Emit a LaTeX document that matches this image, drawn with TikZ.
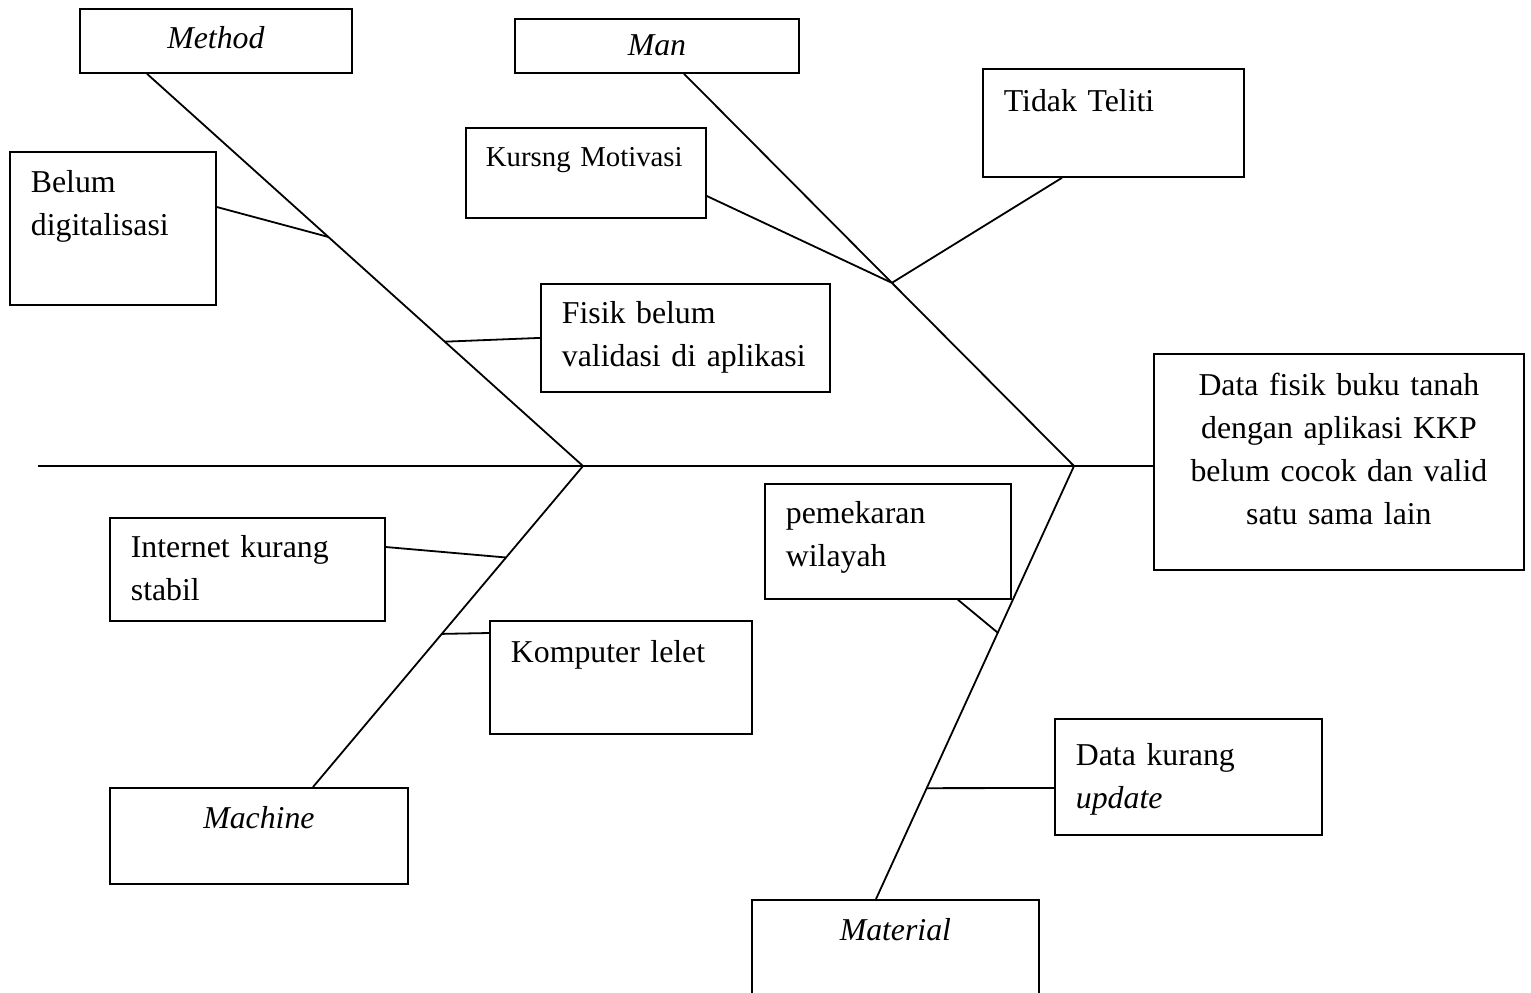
\documentclass[tikz,border=0pt]{standalone}
\usepackage{fontspec}
\setmainfont{Liberation Serif}
\usetikzlibrary{calc}

\tikzset{
  box/.style={draw, line width=0.9pt, anchor=north west, align=left, inner xsep=10.5pt, inner ysep=0pt, font=\fontsize{15.9}{21.5}\selectfont},
  cat/.style={box, align=center, font=\fontsize{15.9}{21.5}\selectfont\itshape},
  bone/.style={line width=0.9pt}
}

\begin{document}
\begin{tikzpicture}[x=0.5pt, y=-0.5pt]
\useasboundingbox (0,0) rectangle (1531,992);

\node [cat, text width=115pt, text height=20pt, text depth=12pt] (method) at (79,8) {Method};
\node [cat, text width=121pt, text height=18.5pt, text depth=8.5pt] (man) at (514,18) {Man};
\node [cat, text width=128pt, text height=20.5pt, text depth=27.5pt] (machine) at (109,787) {Machine};
\node [cat, text width=122.5pt, text height=20.5pt, text depth=30pt] (material) at (751,899) {Material};
\node [box, align=center, text width=164pt, text height=21pt, text depth=87pt] (data) at (1153,353) {Data fisik buku tanah\\dengan aplikasi KKP\\belum cocok dan valid\\satu sama lain};

\node [box, text width=82pt, text height=20.5pt, text depth=56pt] (belum) at (9,151) {Belum\\digitalisasi};
\node [box, text width=123.5pt, text height=20pt, text depth=34pt] (fisik) at (540,283) {Fisik belum\\validasi di aplikasi};
\node [box, font=\fontsize{14.4}{19}\selectfont, inner xsep=10pt, text width=100pt, text height=19.5pt, text depth=25.5pt] (kursng) at (465,127) {Kursng Motivasi};
\node [box, text width=109.5pt, text height=21.5pt, text depth=32.5pt] (tidak) at (982,68) {Tidak Teliti};
\node [box, text width=116.5pt, text height=20pt, text depth=31.5pt] (internet) at (109,517) {Internet kurang\\stabil};
\node [box, text width=110pt, text height=21pt, text depth=35.5pt] (komputer) at (489,620) {Komputer lelet};
\node [box, text width=102pt, text height=20pt, text depth=37.5pt] (pemekaran) at (764,483) {pemekaran\\wilayah};
\node [box, text width=112.5pt, text height=23.5pt, text depth=34.5pt] (datakurang) at (1054,718) {Data kurang\\\textit{update}};

\coordinate (tail) at (38,466);
\coordinate (jmethod) at (583,466);
\coordinate (jman) at (1074,466);
\coordinate (mtop) at ([xshift=34pt]method.south west);
\coordinate (ntop) at ([xshift=85pt]man.south west);
\coordinate (ctop) at ([xshift=102pt]machine.north west);
\coordinate (dtop) at ([xshift=62.5pt]material.north west);

\draw [bone] (tail) -- (data.west |- tail);
\draw [bone] (mtop) -- (jmethod);
\draw [bone] (ntop) -- (jman);
\draw [bone] (jmethod) -- (ctop);
\draw [bone] (jman) -- (dtop);

\coordinate (b1) at ($(mtop)!0.416!(jmethod)$);
\coordinate (b2) at ($(mtop)!0.683!(jmethod)$);
\coordinate (m1) at ($(ntop)!0.533!(jman)$);
\coordinate (c1) at ($(jmethod)!0.285!(ctop)$);
\coordinate (c2) at ($(jmethod)!0.523!(ctop)$);
\coordinate (d1) at ($(jman)!0.385!(dtop)$);
\coordinate (d2) at ($(jman)!0.744!(dtop)$);

\draw [bone] ([yshift=-28pt]belum.north east) -- (b1);
\draw [bone] (fisik.west) -- (b2);
\draw [bone] ([yshift=-34.5pt]kursng.north east) -- (m1);
\draw [bone] ([xshift=40pt]tidak.south west) -- (m1);
\draw [bone] ([yshift=-15pt]internet.north east) -- (c1);
\draw [bone] ([yshift=-6.5pt]komputer.north west) -- (c2);
\draw [bone] ([xshift=97pt]pemekaran.south west) -- (d1);
\draw [bone] ([yshift=-35pt]datakurang.north west) -- (d2);
\end{tikzpicture}
\end{document}
